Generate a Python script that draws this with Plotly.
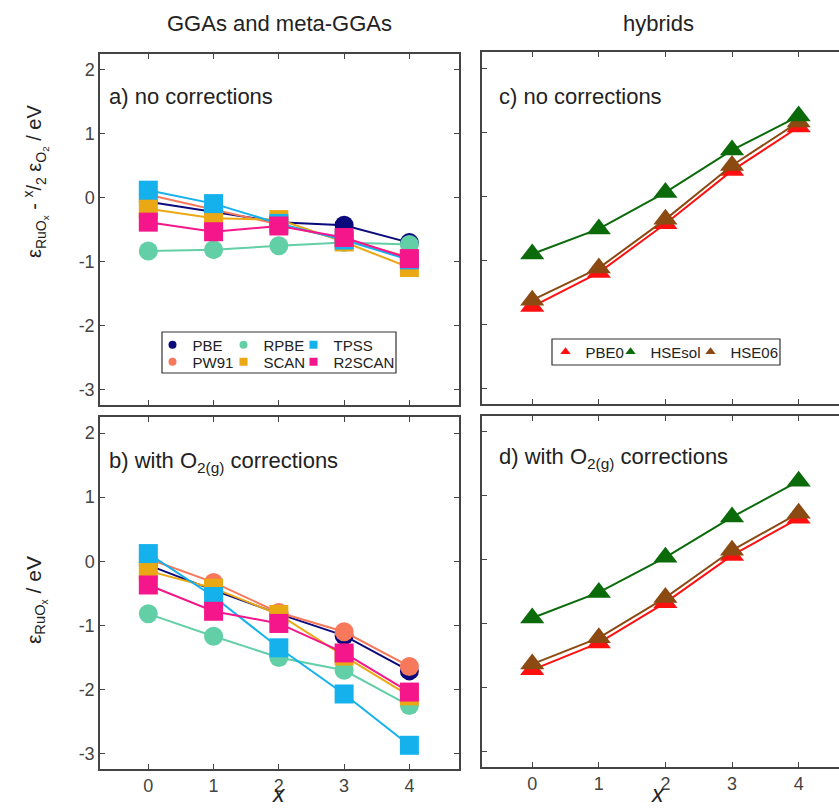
import plotly.graph_objects as go

W, H = 839, 808

x_vals = [0, 1, 2, 3, 4]

# Panel a) GGAs / meta-GGAs, no corrections
a_PBE = [-0.06, -0.22, -0.38, -0.43, -0.70]
a_PW91 = [0.05, -0.18, -0.42, -0.65, -0.93]
a_RPBE = [-0.83, -0.81, -0.75, -0.70, -0.73]
a_SCAN = [-0.17, -0.32, -0.34, -0.69, -1.09]
a_TPSS = [0.12, -0.09, -0.40, -0.66, -0.97]
a_R2SCAN = [-0.38, -0.53, -0.44, -0.62, -0.95]

# Panel b) with O2(g) corrections
b_PBE = [-0.06, -0.45, -0.82, -1.16, -1.71]
b_PW91 = [0.04, -0.33, -0.80, -1.10, -1.64]
b_RPBE = [-0.82, -1.17, -1.50, -1.70, -2.25]
b_SCAN = [-0.15, -0.42, -0.83, -1.48, -2.10]
b_TPSS = [0.12, -0.55, -1.35, -2.07, -2.87]
b_R2SCAN = [-0.37, -0.78, -0.97, -1.43, -2.04]

# Panel c) hybrids, no corrections
c_PBE0 = [-1.72, -1.19, -0.43, 0.40, 1.08]
c_HSEsol = [-0.90, -0.51, 0.06, 0.72, 1.25]
c_HSE06 = [-1.62, -1.12, -0.36, 0.48, 1.16]

# Panel d) hybrids, with O2(g) corrections
d_PBE0 = [-1.72, -1.30, -0.67, 0.07, 0.65]
d_HSEsol = [-0.91, -0.51, 0.04, 0.67, 1.23]
d_HSE06 = [-1.63, -1.22, -0.59, 0.15, 0.73]

col = {
    "PBE": "#0a0a7d",
    "PW91": "#f7785a",
    "RPBE": "#63cfa6",
    "TPSS": "#14b1ec",
    "SCAN": "#eaa815",
    "R2SCAN": "#f5168c",
    "PBE0": "#ff1010",
    "HSEsol": "#0b6b0b",
    "HSE06": "#8b4a12",
}
sym = {"PBE": "circle", "PW91": "circle", "RPBE": "circle",
       "TPSS": "square", "SCAN": "square", "R2SCAN": "square",
       "PBE0": "triangle-up", "HSEsol": "triangle-up", "HSE06": "triangle-up"}

FONT = "Liberation Sans, Arial, sans-serif"

fig = go.Figure()

def px_x(p):
    return p / W

def px_y(p):
    return 1 - p / H

panels = {
    "a": dict(x=(100, 459), y=(54, 405), xr=[-0.74, 4.76], xl=False, yl=True, ym=True),
    "b": dict(x=(100, 459), y=(417, 769), xr=[-0.74, 4.76], xl=True, yl=True, ym=True),
    "c": dict(x=(482, 839), y=(52, 404), xr=[-0.754, 4.606], xl=False, yl=False, ym=False),
    "d": dict(x=(482, 839), y=(416, 767), xr=[-0.754, 4.606], xl=True, yl=False, ym=False),
}
axnames = {"a": ("x", "y"), "b": ("x2", "y2"), "c": ("x3", "y3"), "d": ("x4", "y4")}

layout_axes = {}
for k, p in panels.items():
    xa, ya = axnames[k]
    xkey = "xaxis" if xa == "x" else "xaxis" + xa[1:]
    ykey = "yaxis" if ya == "y" else "yaxis" + ya[1:]
    layout_axes[xkey] = dict(
        domain=[px_x(p["x"][0]), px_x(p["x"][1])], range=p["xr"], anchor=ya,
        tickmode="array", tickvals=x_vals, ticktext=[str(v) for v in x_vals],
        showticklabels=p["xl"], ticks="inside", ticklen=5, tickcolor="#444",
        showline=True, linecolor="#444", linewidth=1.5, mirror="ticks",
        showgrid=False, zeroline=False,
        tickfont=dict(family=FONT, size=18, color="#444"),
    )
    layout_axes[ykey] = dict(
        domain=[px_y(p["y"][1]), px_y(p["y"][0])], range=[-3.24, 2.25], anchor=xa,
        tickmode="array", tickvals=[-3, -2, -1, 0, 1, 2],
        ticktext=["-3", "-2", "-1", "0", "1", "2"],
        showticklabels=p["yl"], ticks="inside", ticklen=5, tickcolor="#444",
        showline=True, linecolor="#444", linewidth=1.5,
        mirror="ticks" if p["ym"] else False,
        showgrid=False, zeroline=False,
        tickfont=dict(family=FONT, size=18, color="#444"),
    )

gga_a = [("PBE", a_PBE), ("PW91", a_PW91), ("RPBE", a_RPBE),
         ("SCAN", a_SCAN), ("TPSS", a_TPSS), ("R2SCAN", a_R2SCAN)]
gga_b = [("PBE", b_PBE), ("PW91", b_PW91), ("RPBE", b_RPBE),
         ("SCAN", b_SCAN), ("TPSS", b_TPSS), ("R2SCAN", b_R2SCAN)]

for data, (xa, ya) in [(gga_a, axnames["a"]), (gga_b, axnames["b"])]:
    for name, vals in data:
        fig.add_trace(go.Scatter(
            x=x_vals, y=vals, mode="lines+markers", xaxis=xa, yaxis=ya,
            line=dict(color=col[name], width=2),
            marker=dict(symbol=sym[name], size=19, color=col[name]),
            showlegend=False, name=name))

hyb_c = [("PBE0", c_PBE0), ("HSE06", c_HSE06), ("HSEsol", c_HSEsol)]
hyb_d = [("PBE0", d_PBE0), ("HSE06", d_HSE06), ("HSEsol", d_HSEsol)]
for data, (xa, ya) in [(hyb_c, axnames["c"]), (hyb_d, axnames["d"])]:
    for name, vals in data:
        fig.add_trace(go.Scatter(
            x=x_vals, y=vals, mode="lines+markers", xaxis=xa, yaxis=ya,
            line=dict(color=col[name], width=2),
            marker=dict(symbol="triangle-up", size=21, color=col[name]),
            showlegend=False, name=name))

# legend entries: one small legend per entry, so that the columns line up
legend_items = [
    ("PBE", 172, 345), ("RPBE", 243, 345), ("TPSS", 313, 345),
    ("PW91", 172, 362), ("SCAN", 243, 362), ("R2SCAN", 313, 362),
    ("PBE0", 565, 352), ("HSEsol", 630, 352), ("HSE06", 710, 352),
]
legend_layout = {}
for i, (n, mx, my) in enumerate(legend_items):
    lname = "legend" if i == 0 else "legend%d" % (i + 1)
    is_tri = sym[n] == "triangle-up"
    fig.add_trace(go.Scatter(
        x=[None], y=[None], mode="markers", name=n, legend=lname,
        marker=dict(symbol=sym[n], size=9 if is_tri else 8, color=col[n]),
        xaxis="x3" if is_tri else "x", yaxis="y3" if is_tri else "y",
        showlegend=True))
    legend_layout[lname] = dict(
        x=px_x(mx - 19.5), y=px_y(my), xanchor="left", yanchor="middle",
        orientation="h", bgcolor="rgba(0,0,0,0)", borderwidth=0,
        font=dict(family=FONT, size=15, color="#222"), itemwidth=30)

annotations = []

def ann(text, x, y, size=22, xanchor="center", yanchor="middle", angle=0, color="#222"):
    annotations.append(dict(text=text, x=px_x(x), y=px_y(y), xref="paper", yref="paper",
                            showarrow=False, xanchor=xanchor, yanchor=yanchor,
                            textangle=angle, font=dict(family=FONT, size=size, color=color)))

ann("GGAs and meta-GGAs", 279, 23)
ann("hybrids", 658, 23)
ann("a) no corrections", 107, 96, xanchor="left")
ann("b) with O<sub>2(g)</sub> corrections", 107, 462, xanchor="left")
ann("c) no corrections", 497, 96, xanchor="left")
ann("d) with O<sub>2(g)</sub> corrections", 497, 458, xanchor="left")
ann("<i>x</i>", 279, 809, size=23, yanchor="bottom")
ann("<i>x</i>", 658, 809, size=23, yanchor="bottom")
ann("ε<sub>RuO<sub>x</sub></sub> - <sup>x</sup>/<sub>2</sub> ε<sub>O<sub>2</sub></sub> / eV", 36, 182,
    size=20, angle=-90)
ann("ε<sub>RuO<sub>x</sub></sub> / eV", 36, 600, size=21, angle=-90)

shapes = [
    dict(type="rect", xref="paper", yref="paper",
         x0=px_x(162), x1=px_x(396), y0=px_y(373), y1=px_y(332),
         line=dict(color="#333", width=1.2)),
    dict(type="rect", xref="paper", yref="paper",
         x0=px_x(552), x1=px_x(780), y0=px_y(365), y1=px_y(339),
         line=dict(color="#333", width=1.2)),
]

fig.update_layout(
    width=W, height=H, margin=dict(l=0, r=0, t=0, b=0),
    paper_bgcolor="white", plot_bgcolor="white",
    showlegend=True,
    annotations=annotations, shapes=shapes,
    **legend_layout,
    **layout_axes,
)

fig.write_html("out.html")
